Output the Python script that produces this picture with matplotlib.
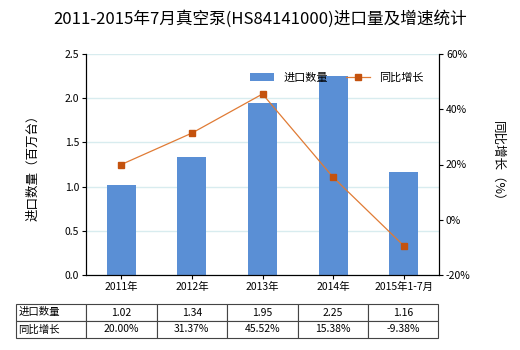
import matplotlib
matplotlib.use("Agg")
import matplotlib.pyplot as plt
import numpy as np

plt.rcParams['font.family'] = ['Noto Sans CJK SC', 'DejaVu Sans']
plt.rcParams['axes.unicode_minus'] = False

# Data
categories = ["2011年", "2012年", "2013年", "2014年", "2015年1-7月"]
import_qty = [1.02, 1.34, 1.95, 2.25, 1.16]          # 百万台
yoy_growth = [20.00, 31.37, 45.52, 15.38, -9.38]     # %
qty_labels = ["1.02", "1.34", "1.95", "2.25", "1.16"]
growth_labels = ["20.00%", "31.37%", "45.52%", "15.38%", "-9.38%"]

bar_color = "#5A8FD5"
line_color = "#E07B35"
marker_color = "#C4520E"

fig = plt.figure(figsize=(5.2, 3.5), dpi=100)
ax = fig.add_axes([86 / 520, 75 / 350, 353 / 520, 221 / 350])
ax2 = ax.twinx()

x = np.arange(len(categories))
ax.bar(x, import_qty, width=0.41, color=bar_color, zorder=2, label="进口数量")
ax.set_xlim(-0.5, len(categories) - 0.5)
ax.set_ylim(0, 2.5)
ax.set_yticks(np.arange(0, 2.51, 0.5))
ax.set_yticklabels([f"{v:.1f}" for v in np.arange(0, 2.51, 0.5)], fontsize=7.5)
ax.set_xticks(x)
ax.set_xticklabels(categories, fontsize=7.5)
ax.grid(axis='y', color='#D8ECEF', linewidth=1, zorder=0)
ax.set_axisbelow(True)
ax.set_ylabel("进口数量（百万台）", fontsize=9, labelpad=18)

ax2.plot(x, yoy_growth, color=line_color, linewidth=0.9, marker='s', markersize=4,
         markerfacecolor=marker_color, markeredgecolor=marker_color, label="同比增长")
ax2.set_ylim(-20, 60)
ax2.set_yticks([-20, 0, 20, 40, 60])
ax2.set_yticklabels(["-20%", "0%", "20%", "40%", "60%"], fontsize=7.5)
ax2.set_ylabel("同比增长（%）", fontsize=9, rotation=-90, labelpad=24)

for a in (ax, ax2):
    a.spines['top'].set_visible(False)
    for s in ('left', 'right', 'bottom'):
        a.spines[s].set_color('black')
        a.spines[s].set_linewidth(0.8)
    a.tick_params(length=3, width=0.8, pad=2)

# legend
h1, l1 = ax.get_legend_handles_labels()
h2, l2 = ax2.get_legend_handles_labels()
ax2.legend(h1 + h2, l1 + l2, loc='upper center', bbox_to_anchor=(0.71, 0.96),
           ncol=2, frameon=False, fontsize=8, handlelength=2.2, columnspacing=1.6)

# title
fig.text(0.5, 0.945, "2011-2015年7月真空泵(HS84141000)进口量及增速统计",
         ha='center', va='center', fontsize=12)

# data table below the chart
cell_text = [["进口数量"] + qty_labels, ["同比增长"] + growth_labels]
tbl = ax.table(cellText=cell_text, cellLoc='center',
               bbox=[-70 / 353, -63 / 221, 422 / 353, 34 / 221])
tbl.auto_set_font_size(False)
tbl.set_fontsize(7.5)
widths = [70, 70.5, 70.5, 70.5, 70.5, 70]
for (r, c), cell in tbl.get_celld().items():
    cell.set_edgecolor('#444444')
    cell.set_linewidth(0.8)
    cell.set_width(widths[c] / 353)
    if c == 0:
        cell._loc = 'left'
        cell.PAD = 0.03
        cell.get_text().set_horizontalalignment('left')

fig.savefig("out.png", dpi=100)
